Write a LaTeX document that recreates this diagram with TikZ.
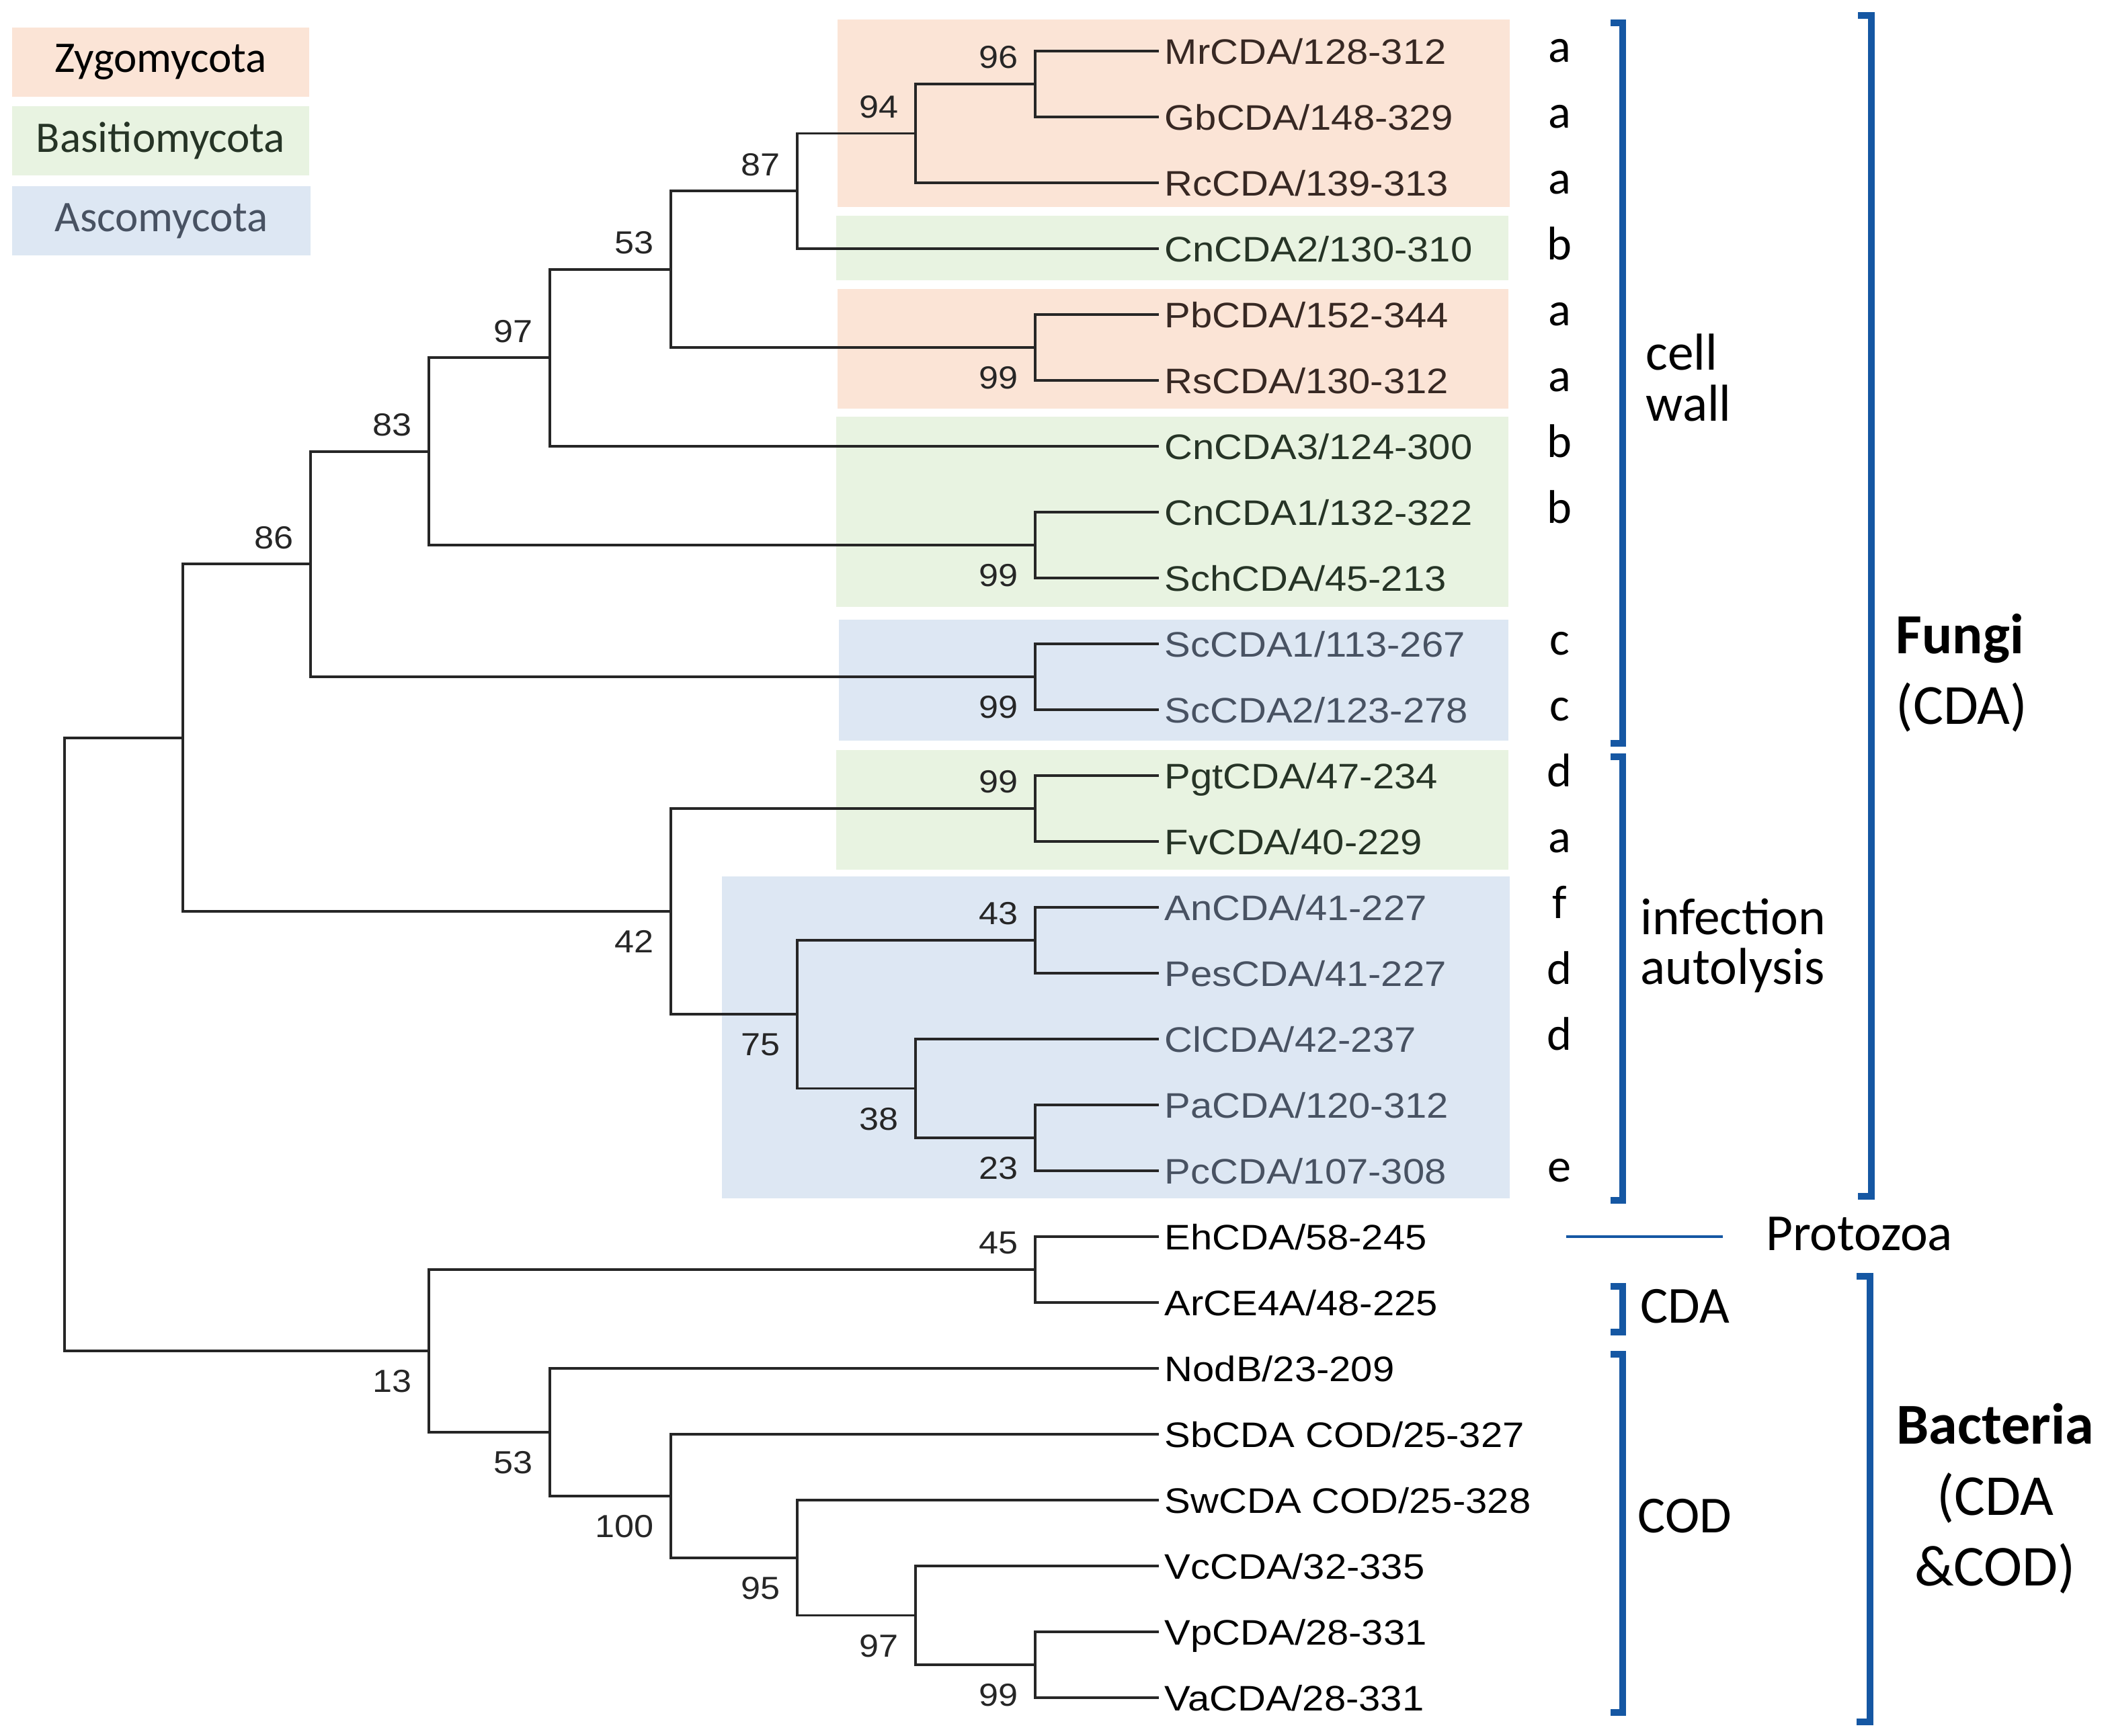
\documentclass[tikz,border=0pt]{standalone}
\usepackage{fontspec}
\setmainfont{Carlito}
\newfontfamily\leaffont[FakeStretch=1.1]{Liberation Sans}
\usepackage{tikz}
\usetikzlibrary{positioning}
\definecolor{zyfill}{RGB}{251,228,214}
\definecolor{bafill}{RGB}{232,243,225}
\definecolor{asfill}{RGB}{221,231,243}
\definecolor{zytext}{RGB}{55,40,35}
\definecolor{batext}{RGB}{38,52,38}
\definecolor{astext}{RGB}{72,82,98}
\definecolor{brkblue}{RGB}{21,87,163}
\tikzstyle{branch} = [line width=1.1pt, color=black!85, line cap=rect]
\tikzstyle{leaf} = [anchor=west, inner xsep=0.1cm, inner ysep=0pt, text height=0.38cm, text depth=0pt, font=\leaffont\fontsize{15}{18}\selectfont]
\tikzstyle{boot} = [inner sep=0pt, text=black!85, font=\leaffont\fontsize{13.5}{15}\selectfont]
\tikzstyle{tag} = [inner sep=0pt, text height=0.33cm, text depth=0pt, font=\fontsize{20}{24}\selectfont]
\tikzstyle{brk} = [line width=3pt, color=brkblue, line join=miter]
\tikzstyle{legend} = [minimum width=4.42cm, minimum height=1.03cm, inner sep=0pt, font=\fontsize{18.5}{22}\selectfont]
\tikzstyle{note} = [anchor=west, align=left, inner sep=0pt, font=\fontsize{22}{21.5}\selectfont]

\begin{document}
\begin{tikzpicture}
\useasboundingbox (0,0) rectangle (31.39,-25.82);

% Legend
\node[legend, fill=zyfill, text=black] (lzy) at (2.39,-0.925) {Zygomycota};
\node[legend, fill=bafill, text=batext] (lba) at (2.39,-2.09) {Basitiomycota};
\node[legend, fill=asfill, text=astext, minimum width=4.44cm] (las) at (2.40,-3.285) {Ascomycota};

% Group shading
\fill[zyfill] (12.46,-0.29) rectangle (22.46,-3.08);
\fill[bafill] (12.44,-3.21) rectangle (22.44,-4.17);
\fill[zyfill] (12.46,-4.30) rectangle (22.44,-6.08);
\fill[bafill] (12.44,-6.20) rectangle (22.44,-9.03);
\fill[asfill] (12.48,-9.22) rectangle (22.44,-11.02);
\fill[bafill] (12.44,-11.16) rectangle (22.44,-12.94);
\fill[asfill] (10.74,-13.04) rectangle (22.46,-17.83);

% Leaves
\foreach \lf/\rg/\yy in {MrCDA/128-312/0.76, GbCDA/148-329/1.74, RcCDA/139-313/2.72, PbCDA/152-344/4.68, RsCDA/130-312/5.66}
    \node[leaf, text=zytext] (\lf) at (17.22,-\yy) {\lf/\rg};
\foreach \lf/\rg/\yy in {CnCDA2/130-310/3.70, CnCDA3/124-300/6.64, CnCDA1/132-322/7.62, SchCDA/45-213/8.60, PgtCDA/47-234/11.54, FvCDA/40-229/12.52}
    \node[leaf, text=batext] (\lf) at (17.22,-\yy) {\lf/\rg};
\foreach \lf/\rg/\yy in {ScCDA1/113-267/9.58, ScCDA2/123-278/10.56, AnCDA/41-227/13.50, PesCDA/41-227/14.48, ClCDA/42-237/15.46, PaCDA/120-312/16.44, PcCDA/107-308/17.42}
    \node[leaf, text=astext] (\lf) at (17.22,-\yy) {\lf/\rg};
\foreach \lf/\rg/\yy in {EhCDA/58-245/18.40, ArCE4A/48-225/19.38, NodB/23-209/20.36, VcCDA/32-335/23.30, VpCDA/28-331/24.28, VaCDA/28-331/25.26}
    \node[leaf] (\lf) at (17.22,-\yy) {\lf/\rg};
\node[leaf] (SbCDA) at (17.22,-21.34) {SbCDA COD/25-327};
\node[leaf] (SwCDA) at (17.22,-22.32) {SwCDA COD/25-328};

% Internal nodes
\coordinate (root) at (0.96,-15.54);
\coordinate (fungi) at (2.72,-10.977);
\coordinate (n86) at (4.62,-8.393);
\coordinate (n83) at (6.38,-6.717);
\coordinate (n97) at (8.18,-5.323);
\coordinate (n53) at (9.98,-4.006);
\coordinate (n87) at (11.86,-2.843);
\coordinate (n94) at (13.62,-1.985);
\coordinate (n96) at (15.40,-1.25);
\coordinate (n99a) at (15.40,-5.17);
\coordinate (n99b) at (15.40,-8.11);
\coordinate (n99c) at (15.40,-10.07);
\coordinate (n42) at (9.98,-13.561);
\coordinate (n99d) at (15.40,-12.03);
\coordinate (n75) at (11.86,-15.093);
\coordinate (n43) at (15.40,-13.99);
\coordinate (n38) at (13.62,-16.195);
\coordinate (n23) at (15.40,-16.93);
\coordinate (n13) at (6.38,-20.10);
\coordinate (n45) at (15.40,-18.89);
\coordinate (n53b) at (8.18,-21.31);
\coordinate (n100) at (9.98,-22.259);
\coordinate (n95) at (11.86,-23.178);
\coordinate (n97b) at (13.62,-24.035);
\coordinate (n99e) at (15.40,-24.77);

% Branches
\foreach \p/\c in {root/fungi, root/n13, fungi/n86, fungi/n42, n86/n83, n86/n99c,
    n83/n97, n83/n99b, n97/n53, n97/CnCDA3, n53/n87, n53/n99a, n87/n94, n87/CnCDA2,
    n94/n96, n94/RcCDA, n96/MrCDA, n96/GbCDA, n99a/PbCDA, n99a/RsCDA,
    n99b/CnCDA1, n99b/SchCDA, n99c/ScCDA1, n99c/ScCDA2, n42/n99d, n42/n75,
    n99d/PgtCDA, n99d/FvCDA, n75/n43, n75/n38, n43/AnCDA, n43/PesCDA,
    n38/ClCDA, n38/n23, n23/PaCDA, n23/PcCDA, n13/n45, n13/n53b,
    n45/EhCDA, n45/ArCE4A, n53b/NodB, n53b/n100, n100/SbCDA, n100/n95,
    n95/SwCDA, n95/n97b, n97b/VcCDA, n97b/n99e, n99e/VpCDA, n99e/VaCDA}
    \draw[branch] (\p) |- (\c);

% Bootstrap values
\foreach \c/\v in {n96/96, n94/94, n87/87, n53/53, n97/97, n83/83, n86/86, n99d/99, n43/43, n45/45}
    \node[boot, above left=0.22cm and 0.25cm of \c] (b\c) {\v};
\foreach \c/\v in {n99a/99, n99b/99, n99c/99, n42/42, n75/75, n38/38, n23/23, n13/13, n53b/53, n100/100, n95/95, n97b/97, n99e/99}
    \node[boot, below left=0.28cm and 0.25cm of \c] (b\c) {\v};

% Classes
\coordinate (tagcol) at (23.2,0);
\foreach \lf/\tg in {MrCDA/a, GbCDA/a, RcCDA/a, CnCDA2/b, PbCDA/a, RsCDA/a, CnCDA3/b, CnCDA1/b,
    ScCDA1/c, ScCDA2/c, PgtCDA/d, FvCDA/a, AnCDA/f, PesCDA/d, ClCDA/d, PcCDA/e}
    \node[tag] (t\lf) at (\lf.center -| tagcol) {\tg};

% Brackets
\draw[brk] (23.96,-0.34) -- (24.14,-0.34) -- (24.14,-11.06) -- (23.96,-11.06);
\draw[brk] (23.96,-11.26) -- (24.14,-11.26) -- (24.14,-17.86) -- (23.96,-17.86);
\draw[brk] (27.64,-0.23) -- (27.84,-0.23) -- (27.84,-17.80) -- (27.64,-17.80);
\draw[brk] (23.96,-19.14) -- (24.14,-19.14) -- (24.14,-19.82) -- (23.96,-19.82);
\draw[brk] (23.96,-20.15) -- (24.14,-20.15) -- (24.14,-25.48) -- (23.96,-25.48);
\draw[brk] (27.62,-18.99) -- (27.82,-18.99) -- (27.82,-25.62) -- (27.62,-25.62);
\draw[brkblue, line width=1.2pt] (23.30,-18.40) -- (25.63,-18.40);

% Labels
\node[note] (lcell) at (24.48,-5.62) {cell\\wall};
\node[note, font=\fontsize{22}{21}\selectfont] (linf) at (24.40,-14.07) {infection\\autolysis};
\node[note, font=\fontsize{24}{30}\selectfont] (lfungi) at (28.2,-10.01) {\textbf{Fungi}\\(CDA)};
\node[inner sep=0pt, font=\fontsize{22}{26}\selectfont] (lproto) at (27.66,-18.36) {Protozoa};
\node[note] (lcda) at (24.40,-19.44) {CDA};
\node[note] (lcod) at (24.36,-22.56) {COD};
\node[align=center, inner sep=0pt, font=\fontsize{24.5}{30}\selectfont] (lbact) at (29.68,-22.30) {\textbf{Bacteria}\\(CDA\\\&COD)};
\end{tikzpicture}
\end{document}
